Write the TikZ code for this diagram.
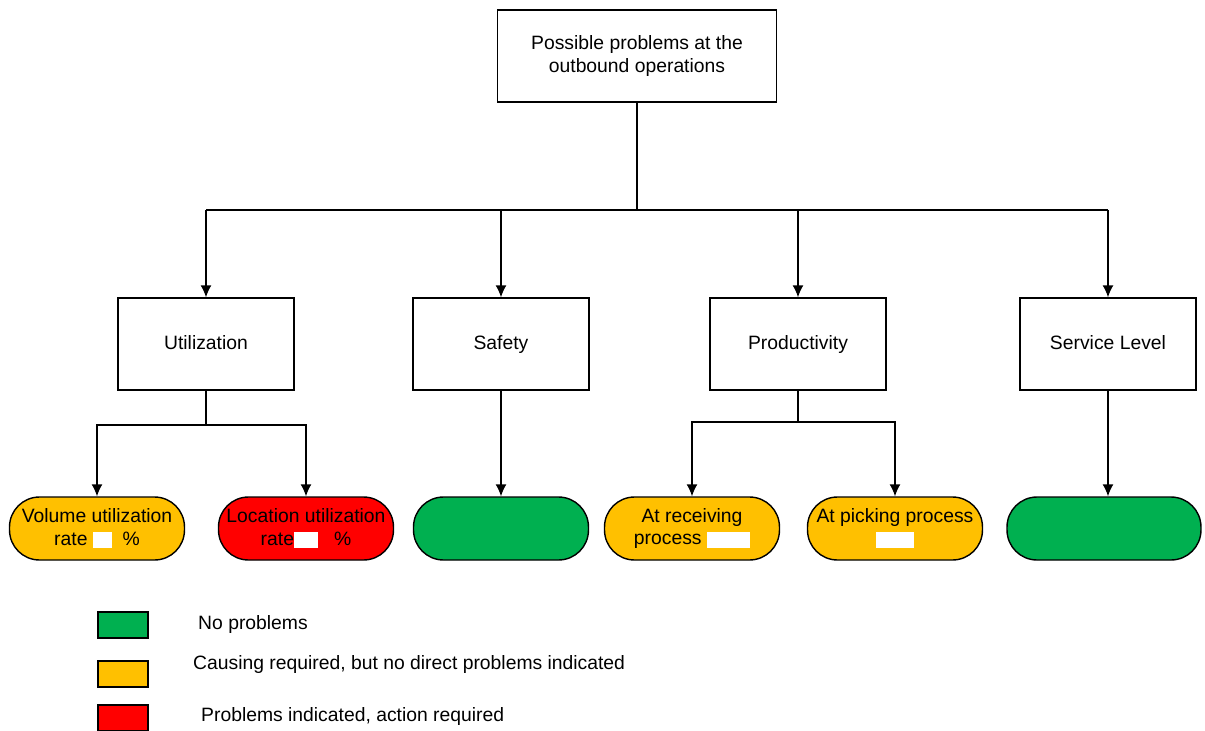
\documentclass[tikz,border=0pt]{standalone}
\usepackage{fontspec}
\setmainfont{Liberation Sans}
\usetikzlibrary{arrows.meta}
\definecolor{okgreen}{HTML}{00B050}
\definecolor{warnyellow}{HTML}{FFC000}
\definecolor{alarmred}{HTML}{FF0000}
\newcommand{\blank}[1]{{\color{white}\rule[-0.06cm]{#1}{0.32cm}}}

\begin{document}
\begin{tikzpicture}[x=0.02cm, y=-0.02cm, font=\fontsize{11}{13}\selectfont,
        box/.style={draw, thick, fill=white, align=center, minimum width=3.52cm, minimum height=1.84cm},
        level/.style={box, text height=1.6ex, text depth=0.4ex},
        leaf/.style={draw, thick, align=center, rounded corners=0.6cm, minimum width=3.5cm, minimum height=1.26cm, inner sep=1pt},
        swatch/.style={draw, thick, minimum width=1cm, minimum height=0.52cm, inner sep=0pt},
        arr/.style={thick, -{Latex[length=0.24cm, width=0.22cm]}}]
        \useasboundingbox (0,0) rectangle (1205,731);

        % tree
        \node[box, minimum width=5.58cm] (top) at (637,56) {Possible problems at the\\outbound operations};
        \node[level] (util) at (206,344) {Utilization};
        \node[level] (safety) at (501,344) {Safety};
        \node[level] (prod) at (798,344) {Productivity};
        \node[level] (service) at (1108,344) {Service Level};

        \node[leaf, fill=warnyellow] (vol) at (97,528.5) {Volume utilization\\rate \blank{0.38cm}\ \ \%};
        \node[leaf, fill=alarmred] (loc) at (306,528.5) {Location utilization\\rate\blank{0.48cm}\ \ \ \%};
        \node[leaf, fill=okgreen] (sleaf) at (501,528.5) {};
        \node[leaf, fill=warnyellow] (rec) at (692,528.5) {At receiving\\process \blank{0.86cm}};
        \node[leaf, fill=warnyellow] (pick) at (895,528.5) {At picking process\\\blank{0.76cm}};
        \node[leaf, fill=okgreen, minimum width=3.88cm] (svleaf) at (1104,528.5) {};

        \coordinate (bus) at (637,210);
        \coordinate (ufork) at (206,425);
        \coordinate (pfork) at (798,422);

        \draw[thick] (top) -- (bus);
        \draw[thick] (bus) -- (bus -| util);
        \draw[thick] (bus) -- (bus -| service);
        \draw[arr] (bus -| util) -- (util);
        \draw[arr] (bus -| safety) -- (safety);
        \draw[arr] (bus -| prod) -- (prod);
        \draw[arr] (bus -| service) -- (service);

        \draw[thick] (util) -- (ufork);
        \draw[arr] (ufork) -| (vol);
        \draw[arr] (ufork) -| (loc);
        \draw[arr] (safety) -- (sleaf);
        \draw[thick] (prod) -- (pfork);
        \draw[arr] (pfork) -| (rec);
        \draw[arr] (pfork) -| (pick);
        \draw[arr] (service) -- (service |- svleaf.north);

        % legend
        \node[swatch, fill=okgreen] (legG) at (123,625) {};
        \node[swatch, fill=warnyellow] (legY) at (123,674) {};
        \node[swatch, fill=alarmred] (legR) at (123,718) {};
        \node[anchor=west] (txtG) at (192,624) {No problems};
        \node[anchor=west] (txtY) at (187,664) {Causing required, but no direct problems indicated};
        \node[anchor=west] (txtR) at (195,716) {Problems indicated, action required};
\end{tikzpicture}
\end{document}
